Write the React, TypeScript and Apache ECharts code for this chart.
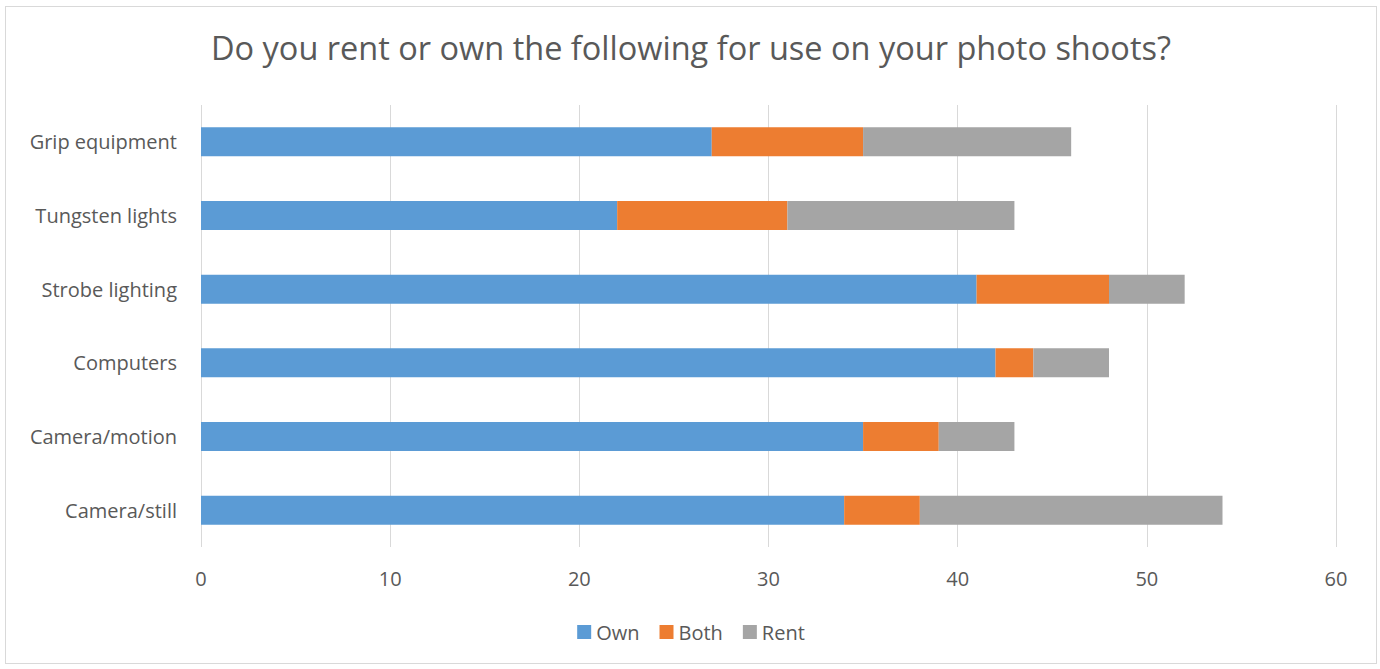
import React, { useEffect, useRef } from "react";
import * as echarts from "echarts";

const categories = ["Camera/still", "Camera/motion", "Computers", "Strobe lighting", "Tungsten lights", "Grip equipment"];
const own = [34, 35, 42, 41, 22, 27];
const both = [4, 4, 2, 7, 9, 8];
const rent = [16, 4, 4, 4, 12, 11];
const xTicks = { min: 0, max: 60, interval: 10 };

const FONT = "'Open Sans', 'Liberation Sans', sans-serif";

export default function App() {
  const ref = useRef<HTMLDivElement>(null);
  useEffect(() => {
    document.body.style.margin = "0";
    const chart = echarts.init(ref.current!, null, { renderer: "svg" });
    chart.setOption({
      animation: false,
      backgroundColor: "#ffffff",
      title: {
        text: "Do you rent or own the following for use on your photo shoots?",
        left: "center",
        top: 19,
        textStyle: { fontFamily: FONT, fontSize: 32.5, fontWeight: "normal", color: "#595959" },
      },
      legend: {
        bottom: 16,
        left: "center",
        itemWidth: 14,
        itemHeight: 14,
        itemGap: 20,
        icon: "rect",
        textStyle: { fontFamily: FONT, fontSize: 20, color: "#595959" },
        data: ["Own", "Both", "Rent"],
      },
      grid: { left: 195, right: 40, top: 98, bottom: 116, containLabel: false },
      xAxis: {
        type: "value",
        min: xTicks.min,
        max: xTicks.max,
        interval: xTicks.interval,
        axisLine: { show: false },
        axisTick: { show: false },
        splitLine: { show: true, lineStyle: { color: "#d9d9d9", width: 1 } },
        axisLabel: { fontFamily: FONT, fontSize: 20, color: "#595959", margin: 21 },
      },
      yAxis: {
        type: "category",
        data: categories,
        axisLine: { show: false },
        axisTick: { show: false },
        axisLabel: { fontFamily: FONT, fontSize: 20, color: "#595959", margin: 24 },
      },
      series: [
        { name: "Own", type: "bar", stack: "a", data: own, barWidth: 29, itemStyle: { color: "#5b9bd5" } },
        { name: "Both", type: "bar", stack: "a", data: both, barWidth: 29, itemStyle: { color: "#ed7d31" } },
        { name: "Rent", type: "bar", stack: "a", data: rent, barWidth: 29, itemStyle: { color: "#a5a5a5" } },
      ],
    });
    return () => chart.dispose();
  }, []);
  return (
    <div style={{ position: "absolute", left: 0, top: 0, width: 1380, height: 669, background: "#fff" }}>
      <div
        style={{
          position: "absolute",
          left: 5,
          top: 6,
          width: 1372,
          height: 658,
          border: "1px solid #d9d9d9",
          boxSizing: "border-box",
        }}
      >
        <div ref={ref} style={{ width: 1370, height: 656 }} />
      </div>
    </div>
  );
}
